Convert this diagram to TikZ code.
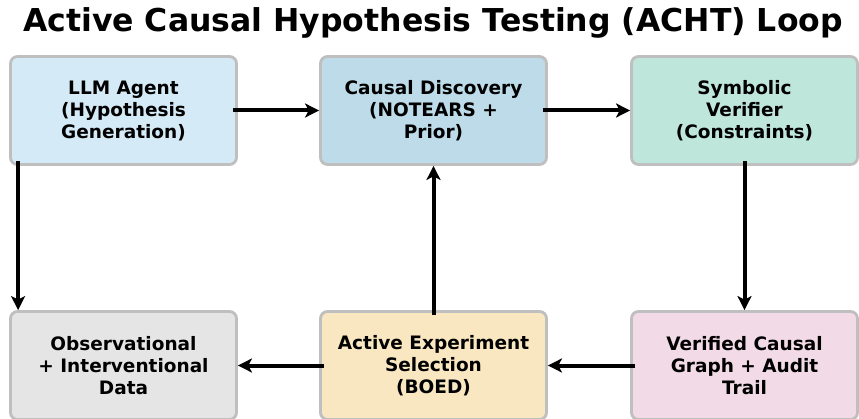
\documentclass[tikz,border=0pt]{standalone}
\usepackage{fontspec}
\setmainfont{DejaVu Sans}
\usepackage{tikz}
\usetikzlibrary{arrows.meta,shapes,positioning}
\definecolor{achtblue}{RGB}{213,234,247}
\definecolor{achtsteel}{RGB}{189,219,233}
\definecolor{achtmint}{RGB}{191,230,219}
\definecolor{achtgray}{RGB}{229,229,229}
\definecolor{achtsand}{RGB}{249,231,193}
\definecolor{achtpink}{RGB}{242,219,230}
\definecolor{achtborder}{RGB}{191,191,191}
\tikzstyle{arrow} = [line width=4pt,-{Stealth[length=14pt,width=14pt,inset=3.5pt]},black]
\tikzstyle{stage} = [rectangle, rounded corners=7pt, minimum width=226pt, minimum height=108pt, align=center, text centered, draw=achtborder, line width=2.8pt, font=\fontsize{18.5}{22}\selectfont\bfseries]

\begin{document}
\begin{tikzpicture}[x=1pt,y=-1pt]
\useasboundingbox (0,0) rectangle (859,419);
\clip (0,0) rectangle (859,419);
% Title
\node[font=\fontsize{31.5}{36}\selectfont\bfseries] (title) at (433,23) {Active Causal Hypothesis Testing (ACHT) Loop};

% Top row
\node[stage, fill=achtblue] (llm) at (123.5,110.5) {LLM Agent\\(Hypothesis\\Generation)};
\node[stage, fill=achtsteel] (disc) at (433.5,110.5) {Causal Discovery\\(NOTEARS +\\Prior)};
\node[stage, fill=achtmint] (verif) at (744.5,110.5) {Symbolic\\Verifier\\(Constraints)};

% Bottom row
\node[stage, fill=achtgray] (data) at (123.5,365.5) {Observational\\+ Interventional\\Data};
\node[stage, fill=achtsand] (boed) at (433.5,365.5) {Active Experiment\\Selection\\(BOED)};
\node[stage, fill=achtpink] (graph) at (744.5,365.5) {Verified Causal\\Graph + Audit\\Trail};

% Flows
\draw[arrow] ([xshift=-5pt]llm.east) -- (disc.west);
\draw[arrow] ([xshift=-5pt]disc.east) -- (verif.west);
\draw[arrow] ([yshift=5pt]verif.south) -- (graph.north);
\draw[arrow] ([xshift=5pt]graph.west) -- (boed.east);
\draw[arrow] ([xshift=5pt]boed.west) -- (data.east);
\draw[arrow] ([yshift=-5pt]boed.north) -- (disc.south);
\draw[arrow] ([xshift=9pt,yshift=5pt]llm.south west) -- ([xshift=9pt]data.north west);
\end{tikzpicture}
\end{document}
